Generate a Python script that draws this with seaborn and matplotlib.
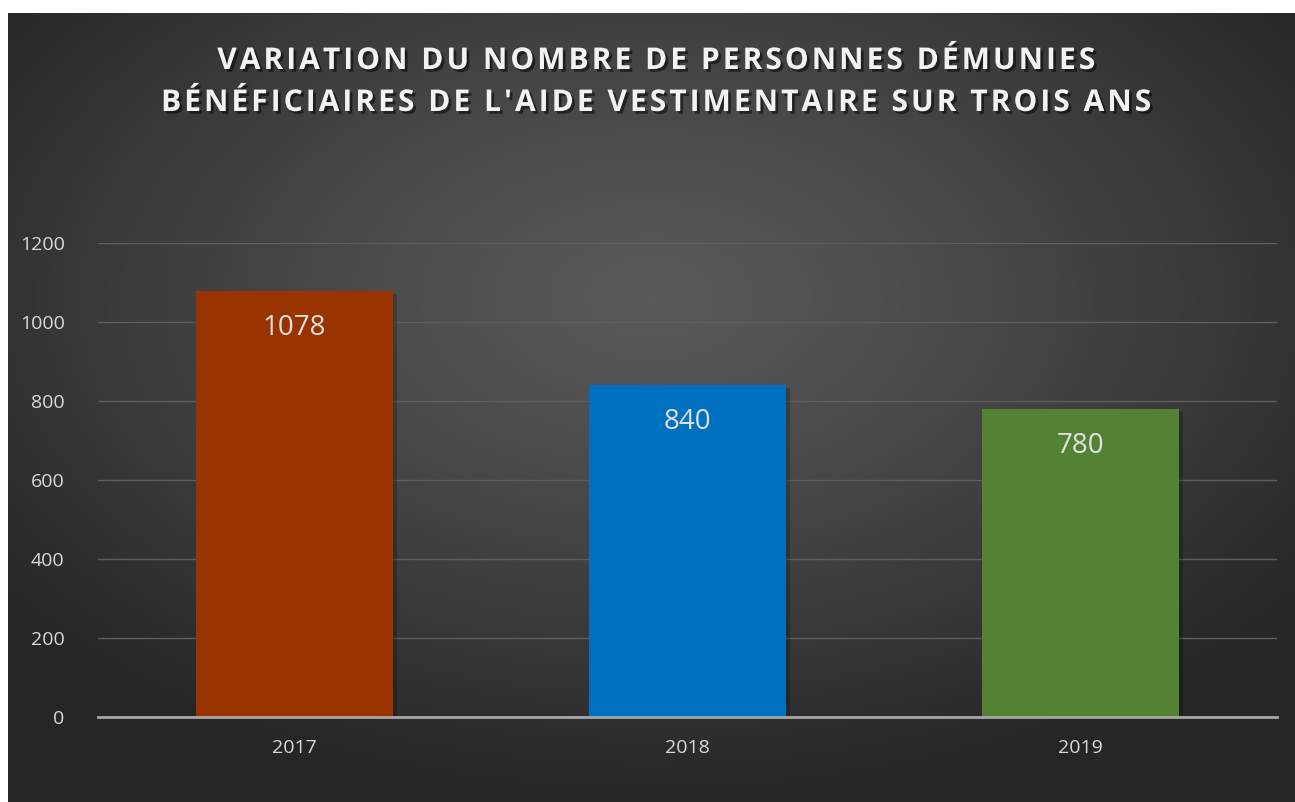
import numpy as np
import pandas as pd
import matplotlib.pyplot as plt
import matplotlib.patheffects as pe
import seaborn as sns

# Data
years = ["2017", "2018", "2019"]
beneficiaires = [1078, 840, 780]
bar_colors = ["#993300", "#0070C0", "#548235"]
y_ticks = [0, 200, 400, 600, 800, 1000, 1200]
title_lines = [
    "VARIATION DU NOMBRE DE PERSONNES DÉMUNIES",
    "BÉNÉFICIAIRES DE L'AIDE VESTIMENTAIRE SUR TROIS ANS",
]

df = pd.DataFrame({"Annee": years, "Beneficiaires": beneficiaires})

sns.set_theme(style="dark")
plt.rcParams["font.family"] = ["Open Sans", "DejaVu Sans"]

W, H = 1295, 802
fig = plt.figure(figsize=(W / 100, H / 100), dpi=100)
fig.patch.set_facecolor("white")

# -----------------------------
# Radial gradient background panel
# -----------------------------
bg = fig.add_axes([8 / W, 0, 1 - 8 / W, (H - 13) / H])
bg.set_axis_off()
gx, gy = np.meshgrid(np.linspace(0, 1, 400), np.linspace(0, 1, 300))
dist = np.sqrt(((gx - 0.5) / 0.75) ** 2 + ((gy - 0.36) / 0.75) ** 2)
dist = np.clip(dist / 0.85, 0, 1)
shade = 0.35 - (0.35 - 0.15) * dist ** 1.2
img = np.dstack([shade, shade, shade])
bg.imshow(img, aspect="auto", extent=[0, 1, 1, 0], interpolation="bicubic")
bg.set_xlim(0, 1)
bg.set_ylim(1, 0)

# -----------------------------
# Bar chart
# -----------------------------
ax = fig.add_axes([98 / W, (H - 717) / H, (1277 - 98) / W, (717 - 243) / H])
ax.set_facecolor("none")

sns.barplot(
    data=df,
    x="Annee",
    y="Beneficiaires",
    hue="Annee",
    palette=bar_colors,
    width=0.5,
    saturation=1,
    linewidth=0,
    legend=False,
    ax=ax,
    zorder=3
)

for patch in ax.patches:
    patch.set_linewidth(0)
    patch.set_path_effects([
        pe.SimplePatchShadow(offset=(3, -2), shadow_rgbFace="black", alpha=0.22),
        pe.Normal()
    ])

for i, v in enumerate(beneficiaires):
    ax.annotate(
        str(v),
        xy=(i, v),
        xytext=(0, -37),
        textcoords="offset pixels",
        ha="center",
        va="center",
        fontsize=20,
        color="#E0E0E0",
        zorder=5
    )

ax.set_ylim(0, 1200)
ax.set_xlim(-0.5, 2.5)
ax.set_yticks(y_ticks)
ax.set_yticklabels([str(t) for t in y_ticks])
ax.set_xlabel("")
ax.set_ylabel("")

ax.grid(axis="y", color="#5E5E5E", linewidth=1, zorder=0)
ax.grid(axis="x", visible=False)
for s in ["top", "right", "left"]:
    ax.spines[s].set_visible(False)
ax.spines["bottom"].set_color("#A6A6A6")
ax.spines["bottom"].set_linewidth(2)
ax.spines["bottom"].set_zorder(4)

ax.tick_params(axis="y", colors="#D9D9D9", labelsize=14, length=0, pad=24)
ax.tick_params(axis="x", colors="#D9D9D9", labelsize=14, length=0, pad=16)

# -----------------------------
# Title (letter-spaced)
# -----------------------------
for txt, ypix in zip(title_lines, [61, 103]):
    spaced = "\u200a".join(txt)
    t = fig.text(
        657 / W,
        1 - ypix / H,
        spaced,
        ha="center",
        va="center",
        fontsize=21.6,
        fontweight="bold",
        color="#F2F2F2",
    )
    t.set_path_effects([
        pe.SimplePatchShadow(offset=(2, -2), shadow_rgbFace="black", alpha=0.5),
        pe.Normal()
    ])

plt.savefig("out.png", dpi=100, facecolor=fig.get_facecolor())
